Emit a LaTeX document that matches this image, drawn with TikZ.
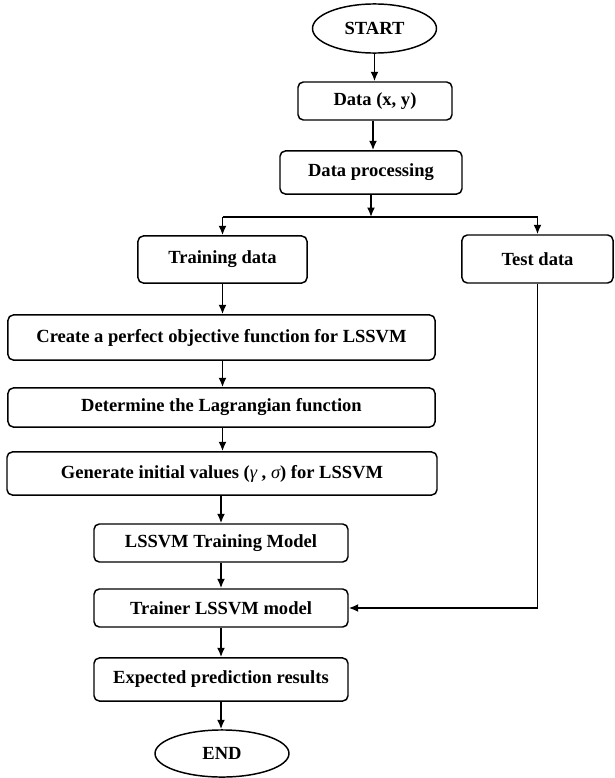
\documentclass[tikz,border=0pt]{standalone}
\usepackage{fontspec}
\setmainfont{Liberation Serif}
\usetikzlibrary{calc}
\usetikzlibrary{shapes,arrows,arrows.meta}
\usetikzlibrary{positioning}
\tikzstyle{pb}=[rectangle, rounded corners=4pt, draw, line width=1.1pt, align=center, inner sep=0pt, font=\bfseries\fontsize{13.9}{16}\selectfont]
\tikzstyle{te}=[ellipse, draw, line width=1.1pt, inner sep=0pt, font=\bfseries\fontsize{13.9}{16}\selectfont]
\tikzstyle{ar}=[-{Latex[length=7pt,width=6pt]}, line width=1.4pt]
\newcommand{\gk}[1]{{\mdseries\itshape #1}}

\begin{document}
\begin{tikzpicture}[x=0.75pt, y=-0.75pt]
\useasboundingbox (0,0) rectangle (614,778);
%\draw[help lines] (0,0) grid (614,778);
\node[te, minimum width=93pt, minimum height=36.8pt] (start) at (374.5,28.5) {START};
\node[pb, minimum width=115.5pt, minimum height=28.5pt] (data) at (375,101) {Data (x, y)};
\node[pb, minimum width=136.5pt, minimum height=32.3pt] (proc) at (371,172.5) {Data processing};
\node[pb, minimum width=126.8pt, minimum height=35.3pt] (train) at (222.5,259.5) {Training data};
\node[pb, minimum width=113.3pt, minimum height=36pt] (test) at (537.5,259) {Test data};
\node[pb, minimum width=320.3pt, minimum height=33.8pt] (obj) at (221.5,337.5) {Create a perfect objective function for LSSVM};
\node[pb, minimum width=320.3pt, minimum height=29.3pt] (lagr) at (221.5,407.5) {Determine the Lagrangian function};
\node[pb, minimum width=322.5pt, minimum height=32.3pt] (init) at (222,473.5) {Generate initial values (\gk{γ} , \gk{σ}) for LSSVM};
\node[pb, minimum width=190.5pt, minimum height=28.5pt] (model) at (221,543) {LSSVM Training Model};
\node[pb, minimum width=190.5pt, minimum height=28.5pt] (trainer) at (221,608) {Trainer LSSVM model};
\node[pb, minimum width=190.5pt, minimum height=32.3pt] (res) at (221,679.5) {Expected prediction results};
\node[te, minimum width=100.5pt, minimum height=35.3pt] (end) at (222,753.5) {END};
\coordinate (split) at (371,217);

\draw[ar] (start) -- (start |- data.north);
\draw[ar] (data.south -| 373,0) -- (proc.north -| 373,0);
\draw[ar] (proc) -- (split);
\draw[line width=1.4pt] (train |- split) -- (test |- split);
\draw[ar] (train |- split) -- (train);
\draw[ar] (test |- split) -- (test);
\draw[ar] (train) -- (train |- obj.north);
\draw[ar] (obj.south -| train) -- (train |- lagr.north);
\draw[ar] (lagr.south -| train) -- (train |- init.north);
\draw[ar] (init.south -| model) -- (model);
\draw[ar] (model) -- (trainer);
\draw[ar] (trainer) -- (res);
\draw[ar] (res) -- (res |- end.north);
\draw[ar] (test) |- (trainer);

\end{tikzpicture}
\end{document}
